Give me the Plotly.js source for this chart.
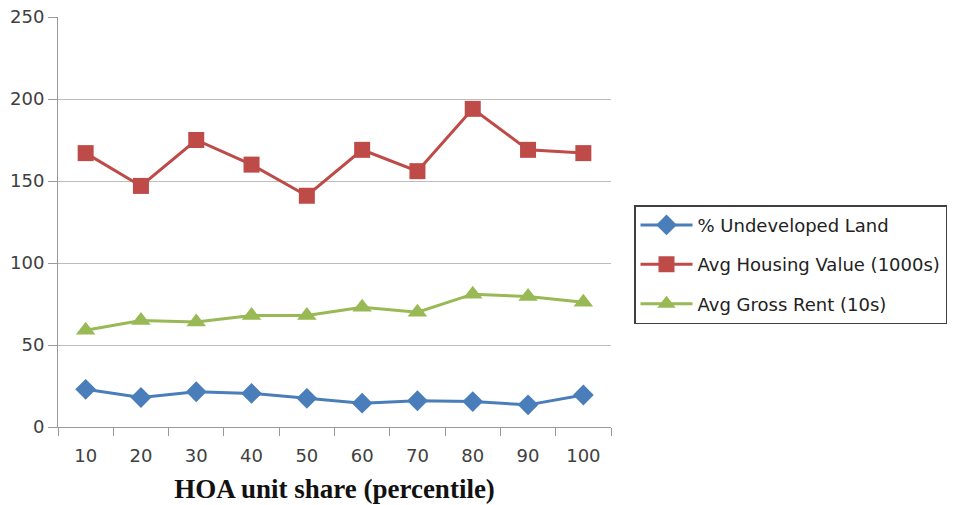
<!DOCTYPE html>
<html>
<head>
<meta charset="utf-8">
<script src="https://cdn.plot.ly/plotly-3.0.1.min.js"></script>
<style>html,body{margin:0;padding:0;background:#fff;}#chart{width:954px;height:505px;}</style>
</head>
<body>
<div id="chart"></div>
<script>
const categories = ["10","20","30","40","50","60","70","80","90","100"];
const undevelopedLand = [23, 18, 21.5, 20.5, 17.5, 14.5, 16, 15.5, 13.5, 19.5];
const housingValue = [167, 147, 175, 160, 141, 169, 156, 194, 169, 167];
const grossRent = [59, 65, 64, 68, 68, 73, 70, 81, 79.5, 76];
const yTicks = [0, 50, 100, 150, 200, 250];

const tickFont = {family: "'DejaVu Sans', sans-serif", size: 18, color: "#404040"};

const traces = [
  {x: categories, y: undevelopedLand, name: "% Undeveloped Land", type: "scatter", mode: "lines+markers",
   line: {color: "#4A7EBB", width: 3}, marker: {symbol: "diamond", size: 16, color: "#4A7EBB"}, legendgroup: "a"},
  {x: categories, y: housingValue, name: "Avg Housing Value (1000s)", type: "scatter", mode: "lines+markers",
   line: {color: "#BE4B48", width: 3}, marker: {symbol: "square", size: 16, color: "#BE4B48"}, legendgroup: "b"},
  {x: categories, y: grossRent, name: "Avg Gross Rent (10s)", type: "scatter", mode: "lines+markers",
   line: {color: "#98B954", width: 3}, marker: {symbol: "triangle-up", size: 17, color: "#98B954"}, legendgroup: "c"}
];

const layout = {
  width: 954, height: 505,
  margin: {l: 58, r: 343, t: 17, b: 78, autoexpand: false},
  paper_bgcolor: "#fff", plot_bgcolor: "#fff",
  showlegend: true,
  legend: {x: 1.0416, xanchor: "left", y: 0.541, yanchor: "top",
    bordercolor: "#404040", borderwidth: 1.5, font: {family: "'DejaVu Sans', sans-serif", size: 18, color: "#222"},
    tracegroupgap: 13, itemwidth: 52},
  xaxis: {type: "category", tickson: "boundaries", ticks: "outside", ticklen: 8, tickcolor: "#999",
    showline: true, linecolor: "#999", linewidth: 1, showgrid: false, zeroline: false,
    tickfont: tickFont, range: [-0.5, 9.5], ticklabelstandoff: 12,
    title: {text: "HOA unit share (percentile)", font: {family: "'Liberation Serif', 'Times New Roman', serif", size: 27, color: "#111", weight: "bold"}, standoff: 14}},
  yaxis: {range: [0, 250], tickvals: yTicks, ticks: "outside", ticklen: 9, tickcolor: "#999",
    showline: true, linecolor: "#999", linewidth: 1, showgrid: true, gridcolor: "#bcbcbc", gridwidth: 1,
    zeroline: false, tickfont: tickFont}
};

Plotly.newPlot("chart", traces, layout, {displayModeBar: false, staticPlot: true});
</script>
</body>
</html>
